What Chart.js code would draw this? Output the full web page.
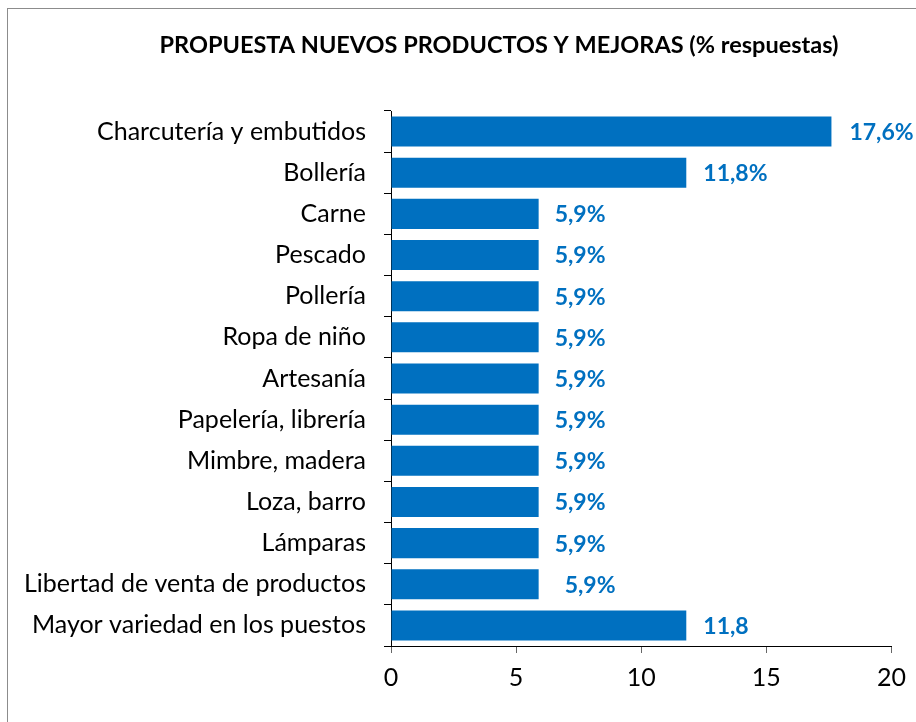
<!DOCTYPE html>
<html>
<head>
<meta charset="utf-8">
<script src="https://cdn.jsdelivr.net/npm/chart.js@4"></script>
<style>
  body { margin: 0; background: #fff; overflow: hidden; }
  #frame { position: absolute; left: 7px; top: 8px; width: 1000px; height: 1000px; border: 1px solid #8c8c8c; }
  #wrap { position: absolute; left: 0; top: 0; width: 916px; height: 722px; }
</style>
</head>
<body>
<div id="frame"></div>
<div id="wrap"><canvas id="chart"></canvas></div>
<script>
const categories = ['Charcutería y embutidos', 'Bollería', 'Carne', 'Pescado', 'Pollería', 'Ropa de niño',
  'Artesanía', 'Papelería, librería', 'Mimbre, madera', 'Loza, barro', 'Lámparas',
  'Libertad de venta de productos', 'Mayor variedad en los puestos'];
const values = [17.6, 11.8, 5.9, 5.9, 5.9, 5.9, 5.9, 5.9, 5.9, 5.9, 5.9, 5.9, 11.8];
const valueLabels = ['17,6%', '11,8%', '5,9%', '5,9%', '5,9%', '5,9%', '5,9%', '5,9%', '5,9%', '5,9%', '5,9%', '5,9%', '11,8'];
const xTicks = [0, 5, 10, 15, 20];
const titleText = 'PROPUESTA NUEVOS PRODUCTOS Y MEJORAS (% respuestas)';

const font = 'Lato';
const blue = '#0070C0';
// the label for "Libertad..." sits a bit further out in the original
const labelGap = [18, 17, 16, 16, 16, 16, 16, 16, 16, 16, 16, 26, 17];

const valueLabelPlugin = {
  id: 'valueLabels',
  afterDatasetsDraw(chart) {
    const ctx = chart.ctx;
    const meta = chart.getDatasetMeta(0);
    ctx.save();
    ctx.font = 'bold 23px ' + font;
    ctx.fillStyle = blue;
    ctx.textAlign = 'left';
    ctx.textBaseline = 'middle';
    meta.data.forEach(function (bar, i) {
      ctx.fillText(valueLabels[i], bar.x + labelGap[i], bar.y + 1);
    });
    ctx.restore();
  }
};

// title is centred over the plot like in the excel chart, not over the canvas
const titlePlugin = {
  id: 'sheetTitle',
  afterDraw(chart) {
    const ctx = chart.ctx;
    ctx.save();
    ctx.font = 'bold 23.5px ' + font;
    ctx.fillStyle = '#000';
    ctx.textAlign = 'center';
    ctx.textBaseline = 'middle';
    ctx.fillText(titleText, 499, 45);
    ctx.restore();
  }
};

new Chart(document.getElementById('chart'), {
  type: 'bar',
  data: {
    labels: categories,
    datasets: [{
      data: values,
      backgroundColor: blue,
      barPercentage: 0.73,
      categoryPercentage: 1
    }]
  },
  options: {
    indexAxis: 'y',
    responsive: true,
    maintainAspectRatio: false,
    animation: false,
    layout: { padding: { left: 0, right: 19, top: 111, bottom: 19 } },
    plugins: {
      legend: { display: false },
      tooltip: { enabled: false },
      title: { display: false }
    },
    scales: {
      x: {
        min: 0,
        max: 20,
        afterBuildTicks(scale) { scale.ticks = xTicks.map(v => ({ value: v })); },
        border: { color: '#000', width: 1 },
        grid: { drawOnChartArea: false, tickLength: 7, color: '#666' },
        ticks: { color: '#000', padding: 10, font: { family: font, size: 25 } }
      },
      y: {
        afterFit(scale) { scale.width = 391; },
        border: { color: '#000', width: 1 },
        grid: { drawOnChartArea: false, tickLength: 7, offset: true, color: '#000' },
        ticks: { color: '#000', padding: 18, font: { family: font, size: 25 } }
      }
    }
  },
  plugins: [valueLabelPlugin, titlePlugin]
});
</script>
</body>
</html>
